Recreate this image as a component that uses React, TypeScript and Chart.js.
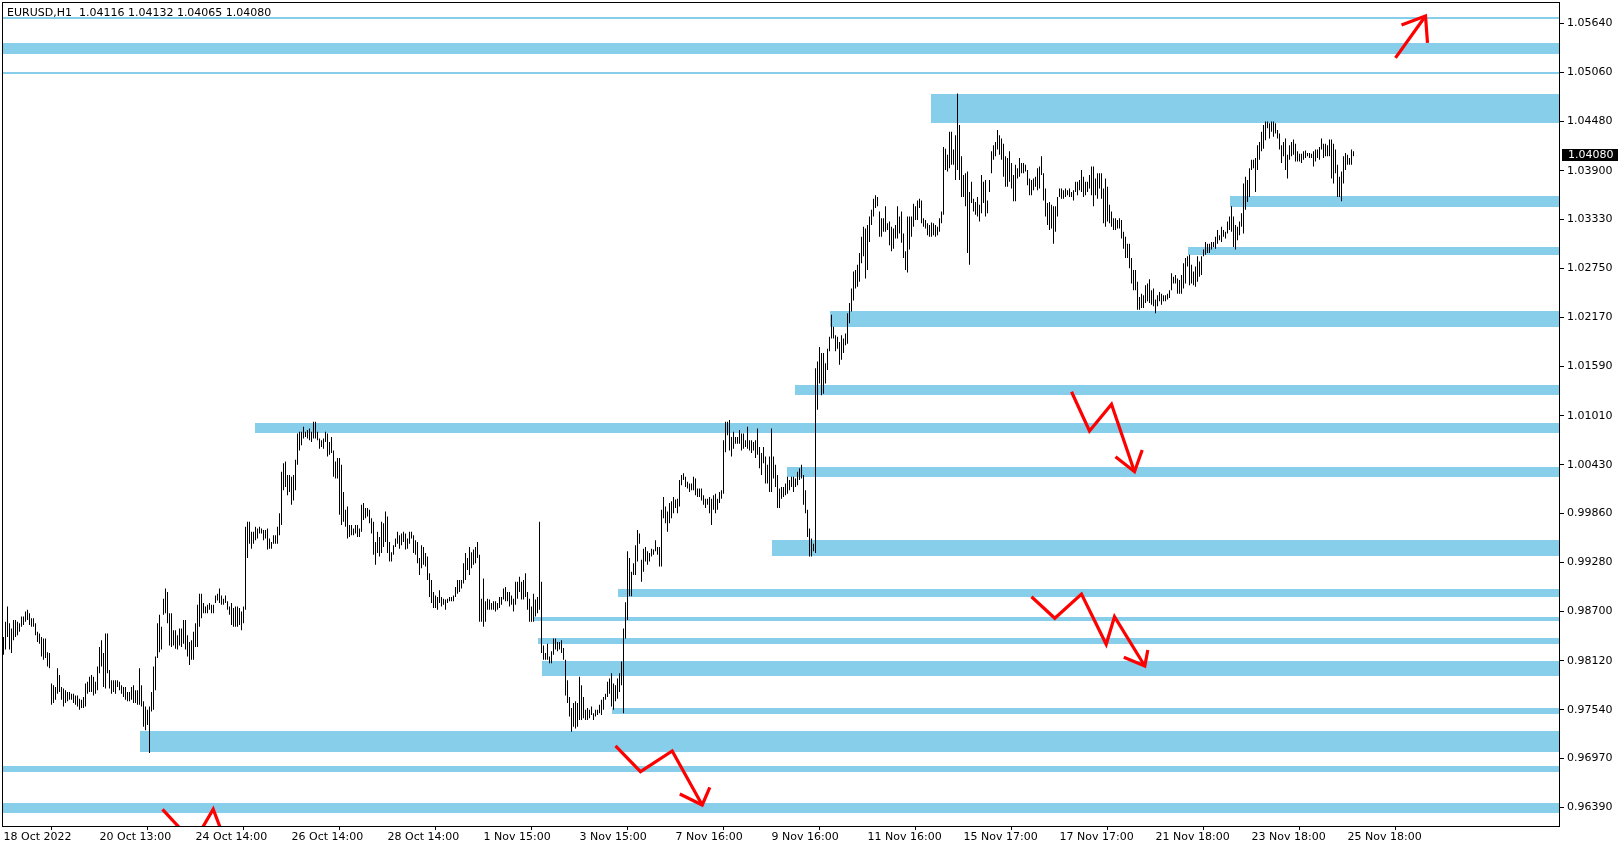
import React, { useEffect, useRef } from "react";
import { Chart, registerables } from "chart.js";

Chart.register(...registerables);

// ---------- data ----------
const symbolTitle = "EURUSD,H1";
const lastBarOHLC = [1.04116, 1.04132, 1.04065, 1.0408];
const PIP_SCALE = 10000; // bar values below are price * 10000

const highPips = [
  9840,9858,9876,9856,9850,9860,9860,9858,9856,9864,
  9864,9870,9872,9868,9862,9862,9856,9846,9844,9840,
  9838,9838,9822,9821,9785,9783,9781,9803,9795,9781,
  9779,9777,9775,9775,9773,9773,9771,9771,9767,9766,
  9769,9785,9787,9793,9795,9793,9787,9805,9828,9836,
  9821,9844,9844,9801,9789,9789,9789,9789,9787,9783,
  9781,9781,9775,9775,9781,9783,9777,9777,9803,9783,
  9764,9758,9754,9758,9775,9805,9817,9856,9866,9852,
  9885,9897,9893,9868,9868,9848,9848,9842,9850,9850,
  9860,9860,9842,9834,9836,9846,9856,9878,9891,9891,
  9880,9876,9878,9880,9878,9878,9889,9891,9897,9889,
  9885,9889,9882,9876,9880,9874,9876,9876,9874,9870,
  9876,9970,9976,9976,9964,9964,9970,9968,9970,9968,
  9966,9966,9968,9956,9952,9960,9960,9970,9986,10035,
  10045,10047,10031,10031,10029,10031,10049,10080,10082,10082,
  10088,10082,10084,10086,10082,10094,10094,10082,10074,10072,
  10074,10082,10080,10070,10076,10060,10047,10051,10051,10043,
  10011,9990,9994,9972,9972,9968,9972,9972,9968,9996,
  9998,9992,9992,9990,9980,9976,9952,9964,9958,9976,
  9974,9988,9982,9952,9940,9948,9956,9964,9960,9962,
  9964,9962,9956,9964,9964,9960,9954,9952,9933,9948,
  9946,9939,9935,9915,9907,9893,9889,9887,9895,9887,
  9885,9884,9885,9887,9887,9889,9899,9907,9907,9907,
  9927,9939,9933,9946,9940,9943,9946,9952,9937,9885,
  9909,9882,9885,9884,9880,9882,9882,9880,9887,9887,
  9897,9899,9893,9893,9889,9885,9905,9905,9911,9905,
  9907,9915,9893,9885,9876,9891,9884,9887,9976,9905,
  9830,9821,9832,9817,9823,9838,9838,9834,9834,9836,
  9827,9813,9789,9769,9756,9762,9764,9762,9793,9783,
  9769,9754,9756,9754,9758,9750,9754,9754,9760,9766,
  9769,9773,9787,9791,9797,9785,9783,9791,9797,9811,
  9850,9881,9941,9933,9917,9927,9948,9966,9962,9931,
  9944,9946,9941,9939,9944,9943,9954,9946,9946,9990,
  10005,9994,9988,9998,10000,10005,10002,10003,10025,10031,
  10033,10029,10023,10021,10021,10029,10027,10015,10015,10015,
  10007,10003,10003,10005,10003,10007,10009,10003,10011,10013,
  10072,10094,10094,10096,10076,10082,10076,10076,10084,10080,
  10080,10072,10088,10072,10072,10070,10072,10086,10064,10057,
  10064,10053,10043,10053,10086,10053,10043,10031,10015,10017,
  10017,10021,10029,10025,10029,10029,10027,10035,10039,10043,
  10031,10013,9990,9968,9956,9950,10157,10165,10182,10175,
  10175,10163,10180,10194,10220,10206,10196,10194,10188,10196,
  10192,10198,10222,10234,10251,10271,10273,10279,10293,10312,
  10324,10322,10326,10336,10344,10357,10361,10359,10342,10334,
  10334,10348,10328,10330,10324,10322,10326,10348,10336,10342,
  10316,10295,10336,10336,10336,10351,10348,10355,10357,10355,
  10334,10332,10328,10326,10329,10328,10326,10324,10334,10342,
  10418,10416,10409,10436,10436,10415,10432,10481,10444,10407,
  10385,10387,10389,10365,10377,10357,10353,10359,10350,10385,
  10377,10379,10355,10379,10413,10420,10424,10438,10432,10428,
  10422,10407,10405,10413,10399,10385,10397,10393,10405,10399,
  10399,10397,10391,10381,10379,10381,10383,10393,10395,10407,
  10387,10369,10352,10353,10350,10348,10348,10359,10369,10369,
  10367,10369,10367,10369,10365,10367,10377,10377,10379,10391,
  10383,10377,10377,10385,10395,10395,10381,10387,10387,10387,
  10369,10381,10371,10350,10342,10334,10334,10332,10334,10332,
  10318,10312,10304,10304,10287,10273,10273,10259,10241,10245,
  10243,10255,10257,10262,10249,10251,10238,10243,10247,10245,
  10243,10243,10245,10249,10269,10265,10267,10263,10261,10267,
  10281,10287,10289,10291,10279,10271,10277,10289,10283,10289,
  10297,10306,10304,10304,10306,10306,10312,10320,10314,10324,
  10320,10318,10330,10336,10348,10336,10326,10324,10330,10340,
  10375,10383,10379,10393,10403,10403,10405,10420,10424,10436,
  10444,10448,10448,10446,10448,10448,10446,10438,10434,10420,
  10424,10428,10409,10420,10424,10427,10422,10413,10410,10410,
  10413,10414,10411,10411,10410,10413,10415,10415,10418,10428,
  10422,10422,10420,10427,10427,10422,10415,10397,10383,10389,
  10407,10411,10409,10405,10415,10413,
];

const lowPips = [
  9819,9825,9840,9825,9821,9836,9840,9842,9846,9852,
  9854,9858,9860,9854,9852,9852,9842,9834,9832,9817,
  9813,9815,9805,9803,9760,9762,9766,9773,9775,9766,
  9758,9762,9764,9766,9766,9762,9760,9758,9754,9756,
  9756,9758,9773,9775,9775,9771,9773,9777,9797,9805,
  9781,9779,9797,9779,9773,9775,9773,9781,9777,9773,
  9769,9766,9764,9764,9766,9762,9762,9760,9760,9758,
  9734,9730,9736,9703,9752,9754,9777,9815,9822,9825,
  9866,9868,9856,9830,9828,9830,9826,9825,9830,9828,
  9832,9825,9817,9807,9813,9813,9828,9828,9852,9862,
  9868,9868,9868,9872,9868,9868,9880,9883,9880,9878,
  9878,9880,9872,9866,9854,9852,9852,9852,9854,9848,
  9856,9872,9933,9950,9944,9950,9954,9956,9962,9962,
  9954,9956,9943,9944,9944,9950,9950,9950,9960,9972,
  10013,10017,10007,10011,9996,10001,10013,10043,10060,10066,
  10074,10076,10074,10072,10070,10074,10074,10072,10062,10064,
  10062,10070,10053,10055,10057,10029,10027,10027,9984,9972,
  9976,9970,9956,9958,9960,9960,9962,9958,9958,9964,
  9978,9980,9982,9974,9962,9937,9925,9939,9935,9939,
  9946,9952,9939,9929,9929,9937,9946,9950,9944,9948,
  9952,9943,9944,9950,9956,9939,9937,9927,9913,9921,
  9925,9923,9907,9887,9880,9874,9874,9872,9880,9876,
  9878,9872,9880,9882,9882,9882,9887,9891,9893,9897,
  9903,9907,9919,9913,9921,9925,9927,9933,9858,9858,
  9852,9858,9872,9872,9872,9872,9870,9872,9874,9878,
  9884,9882,9882,9876,9878,9870,9878,9885,9893,9884,
  9884,9887,9872,9858,9858,9858,9864,9868,9872,9821,
  9813,9813,9813,9809,9809,9819,9825,9823,9825,9821,
  9813,9771,9762,9746,9728,9734,9732,9734,9742,9742,
  9744,9742,9742,9744,9748,9742,9746,9748,9750,9748,
  9754,9766,9769,9773,9758,9754,9764,9767,9775,9783,
  9750,9838,9860,9888,9888,9913,9913,9929,9950,9905,
  9917,9929,9925,9929,9935,9937,9941,9937,9923,9923,
  9980,9974,9964,9974,9980,9986,9992,9986,9994,10019,
  10025,10017,10015,10011,10013,10013,10007,10005,10005,10001,
  9996,9992,9996,9986,9972,9990,9986,9990,9998,10003,
  10009,10058,10078,10060,10053,10062,10068,10068,10068,10060,
  10062,10064,10062,10060,10057,10060,10051,10055,10039,10031,
  10045,10021,10021,10011,10011,10027,10017,9992,9992,10003,
  10005,10007,10009,10013,10017,10011,10017,10019,10025,10027,
  9996,9986,9958,9935,9935,9941,9939,10108,10139,10125,
  10127,10139,10155,10177,10192,10192,10177,10180,10161,10167,
  10175,10184,10186,10210,10224,10237,10251,10253,10259,10281,
  10289,10263,10273,10306,10326,10336,10346,10348,10312,10312,
  10318,10318,10320,10302,10295,10298,10310,10310,10316,10305,
  10287,10273,10270,10297,10312,10324,10332,10332,10346,10328,
  10324,10322,10314,10312,10312,10314,10312,10314,10318,10328,
  10338,10391,10389,10393,10397,10397,10379,10391,10379,10359,
  10359,10348,10293,10279,10352,10342,10338,10336,10330,10340,
  10352,10336,10340,10365,10387,10403,10407,10415,10409,10403,
  10383,10371,10371,10377,10369,10354,10354,10381,10383,10387,
  10387,10389,10373,10361,10361,10367,10371,10367,10369,10385,
  10355,10336,10326,10320,10322,10304,10318,10336,10359,10357,
  10357,10359,10361,10359,10359,10355,10365,10361,10367,10365,
  10359,10361,10365,10369,10361,10348,10361,10357,10369,10357,
  10328,10324,10330,10328,10324,10320,10320,10322,10322,10310,
  10298,10287,10287,10275,10257,10249,10249,10226,10226,10228,
  10228,10234,10236,10234,10232,10230,10222,10230,10236,10232,
  10236,10236,10238,10240,10249,10257,10257,10245,10245,10245,
  10251,10257,10277,10255,10257,10255,10253,10259,10265,10267,
  10289,10291,10293,10293,10297,10300,10298,10304,10308,10306,
  10312,10310,10316,10320,10318,10300,10297,10308,10314,10324,
  10316,10344,10353,10359,10391,10393,10365,10391,10403,10413,
  10416,10426,10440,10428,10436,10430,10434,10428,10415,10399,
  10407,10391,10381,10403,10407,10409,10401,10401,10401,10399,
  10403,10405,10407,10405,10405,10395,10401,10405,10403,10415,
  10405,10407,10407,10407,10381,10375,10387,10359,10359,10354,
  10375,10391,10397,10397,10397,10407,
];

const timeTickBars = [0, 48, 96, 144, 192, 240, 288, 336, 384, 432, 480, 528, 576, 624, 672];
const timeTickLabels = [
  "18 Oct 2022", "20 Oct 13:00", "24 Oct 14:00", "26 Oct 14:00", "28 Oct 14:00",
  "1 Nov 15:00", "3 Nov 15:00", "7 Nov 16:00", "9 Nov 16:00", "11 Nov 16:00",
  "15 Nov 17:00", "17 Nov 17:00", "21 Nov 18:00", "23 Nov 18:00", "25 Nov 18:00",
];

const priceTicks = [
  0.9639, 0.9697, 0.9754, 0.9812, 0.987, 0.9928, 0.9986, 1.0043, 1.0101,
  1.0159, 1.0217, 1.0275, 1.0333, 1.039, 1.0448, 1.0506, 1.0564,
];
const priceMin = 0.96169;
const priceMax = 1.05891;
const barsMin = -0.75;
const barsMax = 778.25;

// supply/demand zones: start bar (null = from the left edge), top, bottom price
const zoneStart = [null, null, null, 464, 613, 592, 413.3, 395.7, 125.9, 392, 384, 307, 265, 267, 269, 304, 68, null, null];
const zoneTop = [1.05718, 1.05411, 1.05062, 1.04806, 1.03602, 1.03001, 1.02245, 1.01372, 1.00924, 1.00405, 0.99543, 0.98965, 0.98638, 0.98391, 0.98116, 0.97565, 0.9729, 0.96877, 0.96444];
const zoneBottom = [1.05694, 1.05278, 1.05038, 1.04467, 1.03469, 1.0291, 1.0206, 1.01258, 1.0081, 1.0029, 0.99358, 0.98874, 0.98591, 0.9832, 0.97942, 0.97494, 0.97045, 0.96809, 0.96326];

// red arrows as polylines of [bar, price]
const arrowUpRight = [[696, 1.05231], [711, 1.05726]];
const arrowUpRightHead = [[699, 1.0562], [711, 1.05726], [712, 1.05408]];
const arrowMid = [[534, 1.01293], [543, 1.0083], [554, 1.01145], [565.5, 1.00349]];
const arrowMidHead = [[556, 1.00526], [565.5, 1.00349], [569.35, 1.00605]];
const arrowLow = [[514, 0.98874], [525.65, 0.9862], [539, 0.98906], [551.35, 0.98313], [555.5, 0.98638], [570.65, 0.98057]];
const arrowLowHead = [[560.15, 0.98159], [570.65, 0.98057], [572.15, 0.98246]];
const arrowBottom = [[306, 0.97113], [318.5, 0.9681], [334.35, 0.97054], [349.35, 0.96417]];
const arrowBottomHead = [[338.15, 0.96547], [349.35, 0.96417], [353.15, 0.96626]];
const arrowClippedA = [[79.5, 0.96366], [89.5, 0.9611]];
const arrowClippedB = [[98.5, 0.9611], [104.85, 0.96366], [109, 0.9611]];
const arrowPaths = [arrowUpRight, arrowUpRightHead, arrowMid, arrowMidHead, arrowLow, arrowLowHead, arrowBottom, arrowBottomHead, arrowClippedA, arrowClippedB];

const FONT = "DejaVu Sans";
const ZONE_COLOR = "#87CEEB";

const zonesPlugin = {
  id: "zones",
  beforeDatasetsDraw(chart: any) {
    const { ctx, chartArea, scales } = chart;
    const xs = scales.x, ys = scales.y;
    ctx.save();
    ctx.beginPath();
    ctx.rect(chartArea.left, chartArea.top, chartArea.right - chartArea.left, chartArea.bottom - chartArea.top);
    ctx.clip();
    ctx.fillStyle = ZONE_COLOR;
    for (let i = 0; i < zoneTop.length; i++) {
      const s = zoneStart[i];
      const x0 = s === null ? chartArea.left : Math.round(xs.getPixelForValue(s));
      const y0 = Math.round(ys.getPixelForValue(zoneTop[i]));
      const y1 = Math.round(ys.getPixelForValue(zoneBottom[i]));
      ctx.fillRect(x0, y0, chartArea.right - x0, Math.max(2, y1 - y0));
    }
    ctx.restore();
  },
};

const arrowsPlugin = {
  id: "arrows",
  afterDatasetsDraw(chart: any) {
    const { ctx, chartArea, scales } = chart;
    const xs = scales.x, ys = scales.y;
    ctx.save();
    ctx.beginPath();
    ctx.rect(chartArea.left, chartArea.top, chartArea.right - chartArea.left, chartArea.bottom - chartArea.top);
    ctx.clip();
    ctx.strokeStyle = "#ff0000";
    ctx.lineWidth = 3.2;
    ctx.lineJoin = "miter";
    ctx.lineCap = "butt";
    for (const path of arrowPaths) {
      ctx.beginPath();
      path.forEach(([b, p], k) => {
        const x = xs.getPixelForValue(b);
        const y = ys.getPixelForValue(p);
        if (k === 0) ctx.moveTo(x, y);
        else ctx.lineTo(x, y);
      });
      ctx.stroke();
    }
    ctx.restore();
  },
};

const framePlugin = {
  id: "frame",
  afterDraw(chart: any) {
    const { ctx, chartArea, scales } = chart;
    ctx.save();
    ctx.strokeStyle = "#000";
    ctx.lineWidth = 1;
    ctx.strokeRect(chartArea.left + 0.5, chartArea.top + 0.5, chartArea.right - chartArea.left - 1, chartArea.bottom - chartArea.top);
    // header
    ctx.fillStyle = "#000";
    ctx.font = `11px "${FONT}"`;
    ctx.textBaseline = "alphabetic";
    ctx.textAlign = "left";
    const header = `${symbolTitle}  ${lastBarOHLC.map((v) => v.toFixed(5)).join(" ")}`;
    ctx.fillText(header, 7, 16);
    // last price label
    const close = lastBarOHLC[3];
    const y = Math.round(scales.y.getPixelForValue(close));
    ctx.fillStyle = "#000";
    ctx.fillRect(chartArea.right + 2, y - 6, 56, 12);
    ctx.fillStyle = "#fff";
    ctx.textBaseline = "middle";
    ctx.fillText(close.toFixed(5), chartArea.right + 8, y + 0.5);
    ctx.restore();
  },
};

export default function App() {
  const ref = useRef<HTMLCanvasElement | null>(null);

  useEffect(() => {
    document.body.style.margin = "0";
    const canvas = ref.current;
    if (!canvas) return;
    Chart.defaults.font.family = FONT;
    const bars = highPips.map((h, i) => ({ x: i, y: [lowPips[i] / PIP_SCALE, h / PIP_SCALE] }));
    const chart = new Chart(canvas, {
      type: "bar",
      data: {
        datasets: [
          {
            data: bars as any,
            backgroundColor: "#000",
            borderWidth: 0,
            barThickness: 1,
            inflateAmount: 0,
            grouped: false,
          } as any,
        ],
      },
      options: {
        responsive: false,
        animation: false,
        events: [],
        layout: { padding: { left: 2, top: 2, right: 0, bottom: 0 } },
        plugins: { legend: { display: false }, tooltip: { enabled: false } },
        scales: {
          x: {
            type: "linear",
            min: barsMin,
            max: barsMax,
            offset: false,
            border: { display: false },
            grid: { drawOnChartArea: false, drawTicks: true, tickLength: 4, color: "#000", tickColor: "#000" },
            ticks: {
              align: "start",
              maxRotation: 0,
              minRotation: 0,
              autoSkip: false,
              padding: 1,
              color: "#000",
              font: { size: 11, family: FONT },
              callback: (v: any) => {
                const k = timeTickBars.indexOf(Number(v));
                return k >= 0 ? timeTickLabels[k] : "";
              },
            },
            afterBuildTicks: (s: any) => {
              s.ticks = timeTickBars.map((v) => ({ value: v }));
            },
            afterFit: (s: any) => {
              s.height = 24;
              s.paddingLeft = 0;
              s.paddingRight = 0;
            },
          } as any,
          y: {
            type: "linear",
            position: "right",
            min: priceMin,
            max: priceMax,
            border: { display: false },
            grid: { drawOnChartArea: false, drawTicks: true, tickLength: 4, color: "#000", tickColor: "#000" },
            ticks: {
              padding: 3,
              color: "#000",
              font: { size: 11, family: FONT },
              callback: (v: any) => Number(v).toFixed(5),
            },
            afterBuildTicks: (s: any) => {
              s.ticks = priceTicks.map((v) => ({ value: v }));
            },
            afterFit: (s: any) => {
              s.width = 64;
              s.paddingTop = 0;
              s.paddingBottom = 0;
            },
          } as any,
        },
      },
      plugins: [zonesPlugin, arrowsPlugin, framePlugin],
    });
    return () => chart.destroy();
  }, []);

  return (
    <div style={{ width: 1624, height: 850, background: "#fff" }}>
      <canvas ref={ref} width={1624} height={850} style={{ display: "block" }} />
    </div>
  );
}
